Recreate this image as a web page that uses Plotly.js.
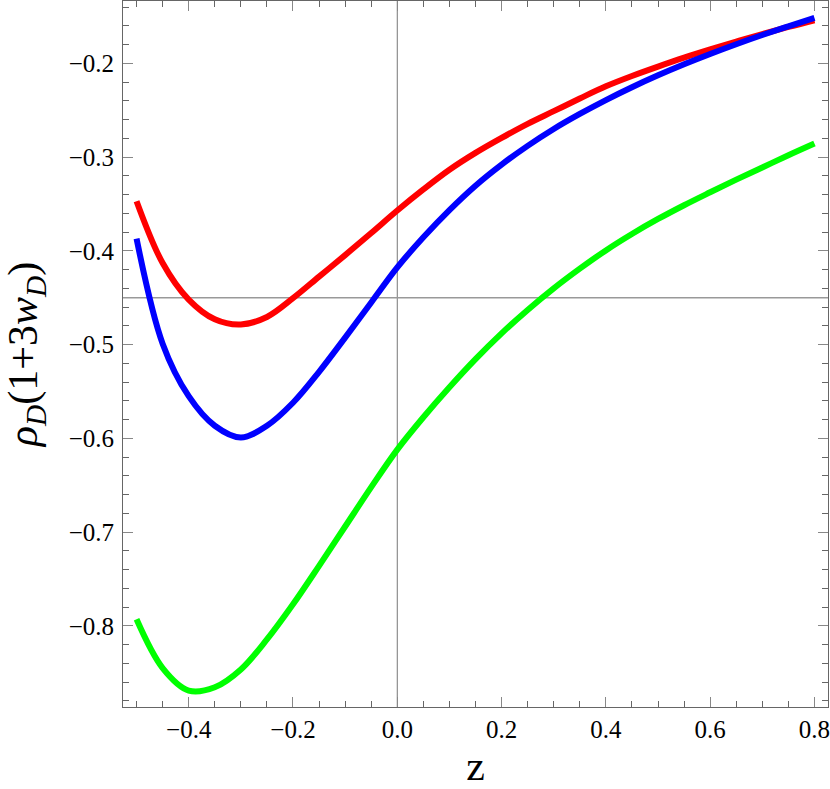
<!DOCTYPE html>
<html>
<head>
<meta charset="utf-8">
<script src="https://cdn.plot.ly/plotly-3.0.1.min.js"></script>
<style>
  html, body { margin: 0; padding: 0; background: #fff; }
  #chart { width: 830px; height: 789px; }
</style>
</head>
<body>
<div id="chart"></div>
<script>
'use strict';

const zValues = [-0.5, -0.45, -0.4, -0.35, -0.3, -0.25, -0.2, -0.15, -0.1, -0.05,
  0, 0.05, 0.1, 0.15, 0.2, 0.25, 0.3, 0.35, 0.4, 0.45, 0.5, 0.55, 0.6, 0.65, 0.7, 0.75, 0.8];
const redValues = [-0.347, -0.413, -0.452, -0.473, -0.4785, -0.4705, -0.4505, -0.4275, -0.4045, -0.381,
  -0.357, -0.3345, -0.3135, -0.2955, -0.2795, -0.2645, -0.251, -0.2375, -0.2245, -0.2135,
  -0.2035, -0.194, -0.1852, -0.1768, -0.1688, -0.1612, -0.154];
const blueValues = [-0.387, -0.499, -0.555, -0.5865, -0.599, -0.5865, -0.562, -0.529, -0.4925, -0.455,
  -0.4176, -0.3855, -0.3565, -0.3305, -0.308, -0.288, -0.27, -0.254, -0.2392, -0.2255,
  -0.2128, -0.201, -0.19, -0.1796, -0.1698, -0.1605, -0.1515];
const greenValues = [-0.793, -0.845, -0.869, -0.8655, -0.8465, -0.8145, -0.777, -0.736, -0.694, -0.652,
  -0.612, -0.5775, -0.5455, -0.5155, -0.488, -0.463, -0.44, -0.419, -0.3995, -0.382,
  -0.366, -0.3513, -0.3375, -0.324, -0.311, -0.298, -0.2855];

const xRange = [-0.526, 0.826];
const yRange = [-0.8865, -0.1335];
const crossY = -0.45;

const serif = 'Liberation Serif, Times New Roman, serif';

function curve(y, color) {
  return {
    x: zValues,
    y: y,
    type: 'scatter',
    mode: 'lines',
    line: {color: color, width: 6, shape: 'spline', smoothing: 1},
    hoverinfo: 'skip',
  };
}

const data = [
  curve(redValues, '#ff0000'),
  curve(blueValues, '#0000ff'),
  curve(greenValues, '#00ff00'),
];

const frameAxis = {
  showgrid: false,
  zeroline: false,
  showline: true,
  linecolor: '#666',
  linewidth: 1,
  mirror: 'ticks',
  ticks: 'inside',
  ticklen: 10,
  tickcolor: '#888',
  tickwidth: 1,
  tickformat: '.1f',
  ticklabeloverflow: 'allow',
  tickfont: {family: serif, size: 25, color: '#000'},
};

const layout = {
  width: 830,
  height: 789,
  margin: {l: 123, r: 2, t: 1, b: 82},
  paper_bgcolor: '#fff',
  plot_bgcolor: '#fff',
  showlegend: false,
  xaxis: Object.assign({}, frameAxis, {
    range: xRange,
    tick0: 0,
    dtick: 0.2,
    minor: {dtick: 0.05, ticks: 'inside', ticklen: 6, tickcolor: '#666'},
    ticklabelstandoff: 0,
    title: {text: 'z', font: {family: serif, size: 42, color: '#000'}, standoff: 12},
  }),
  yaxis: Object.assign({}, frameAxis, {
    range: yRange,
    tick0: 0,
    dtick: 0.1,
    minor: {dtick: 0.02, ticks: 'inside', ticklen: 6, tickcolor: '#666'},
    ticklabelstandoff: 3,
    title: {
      text: '<i>ρ</i><sub><i>D</i></sub>(1+3<i>w</i><sub><i>D</i></sub>)',
      font: {family: serif, size: 42, color: '#000'},
      standoff: 21,
    },
  }),
  shapes: [
    {type: 'line', xref: 'x', yref: 'paper', x0: 0, x1: 0, y0: 0, y1: 1,
      line: {color: '#777', width: 1}, layer: 'below'},
    {type: 'line', xref: 'paper', yref: 'y', x0: 0, x1: 1, y0: crossY, y1: crossY,
      line: {color: '#999', width: 1.5}, layer: 'below'},
  ],
};

Plotly.newPlot('chart', data, layout, {staticPlot: true, displayModeBar: false});
</script>
</body>
</html>
